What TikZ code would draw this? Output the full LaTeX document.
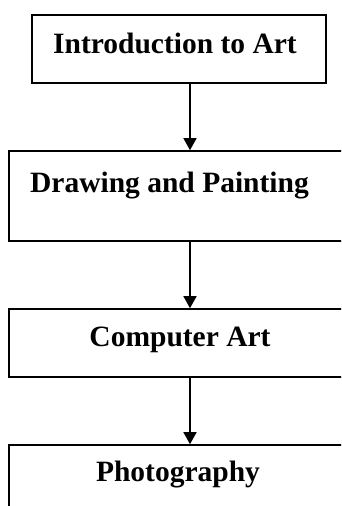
\documentclass[tikz,border=0pt]{standalone}
\usepackage{fontspec}
\setmainfont{Liberation Serif}
\usetikzlibrary{arrows.meta}

\tikzset{%
    stage/.style={%
        draw, rectangle, inner sep=0pt, line width=1.6pt, fill=white
    }
}
\tikzset{%
    stagetxt/.style={%
        anchor=base, inner sep=0pt, font=\fontsize{29.5}{35}\selectfont\bfseries
    }
}

\begin{document}
\begin{tikzpicture}[x=1pt,y=-1pt]
  \useasboundingbox (0,0) rectangle (341,506);
  \clip (0,0) rectangle (341,506);
  \fill[white] (0,0) rectangle (341,506);

  % the four course stages
  \node[stage, minimum width=294pt, minimum height=68pt] (Intro) at (179,49) {};
  \node[stage, minimum width=340pt, minimum height=90pt] (Drawing) at (179,196) {};
  \node[stage, minimum width=340pt, minimum height=68pt] (Computer) at (179,343) {};
  \node[stage, minimum width=340pt, minimum height=90pt] (Photo) at (179,490) {};

  \node[stagetxt] (IntroTxt) at ([xshift=-4pt,yshift=-39pt]Intro.north) {Introduction to Art};
  \node[stagetxt] (DrawingTxt) at ([xshift=-9.5pt,yshift=-42pt]Drawing.north) {Drawing and Painting};
  \node[stagetxt] (ComputerTxt) at ([xshift=1pt,yshift=-38pt]Computer.north) {Computer Art};
  \node[stagetxt] (PhotoTxt) at ([xshift=-1pt,yshift=-37pt]Photo.north) {Photography};

  %
  \draw[->,>={Triangle[width=13pt,length=12pt]},line width=1.6pt] ([xshift=11pt]Intro.south) -- ([xshift=11pt]Drawing.north);
  \draw[->,>={Triangle[width=13pt,length=12pt]},line width=1.6pt] ([xshift=11pt]Drawing.south) -- ([xshift=11pt]Computer.north);
  \draw[->,>={Triangle[width=13pt,length=12pt]},line width=1.6pt] ([xshift=11pt]Computer.south) -- ([xshift=11pt]Photo.north);
\end{tikzpicture}
\end{document}
